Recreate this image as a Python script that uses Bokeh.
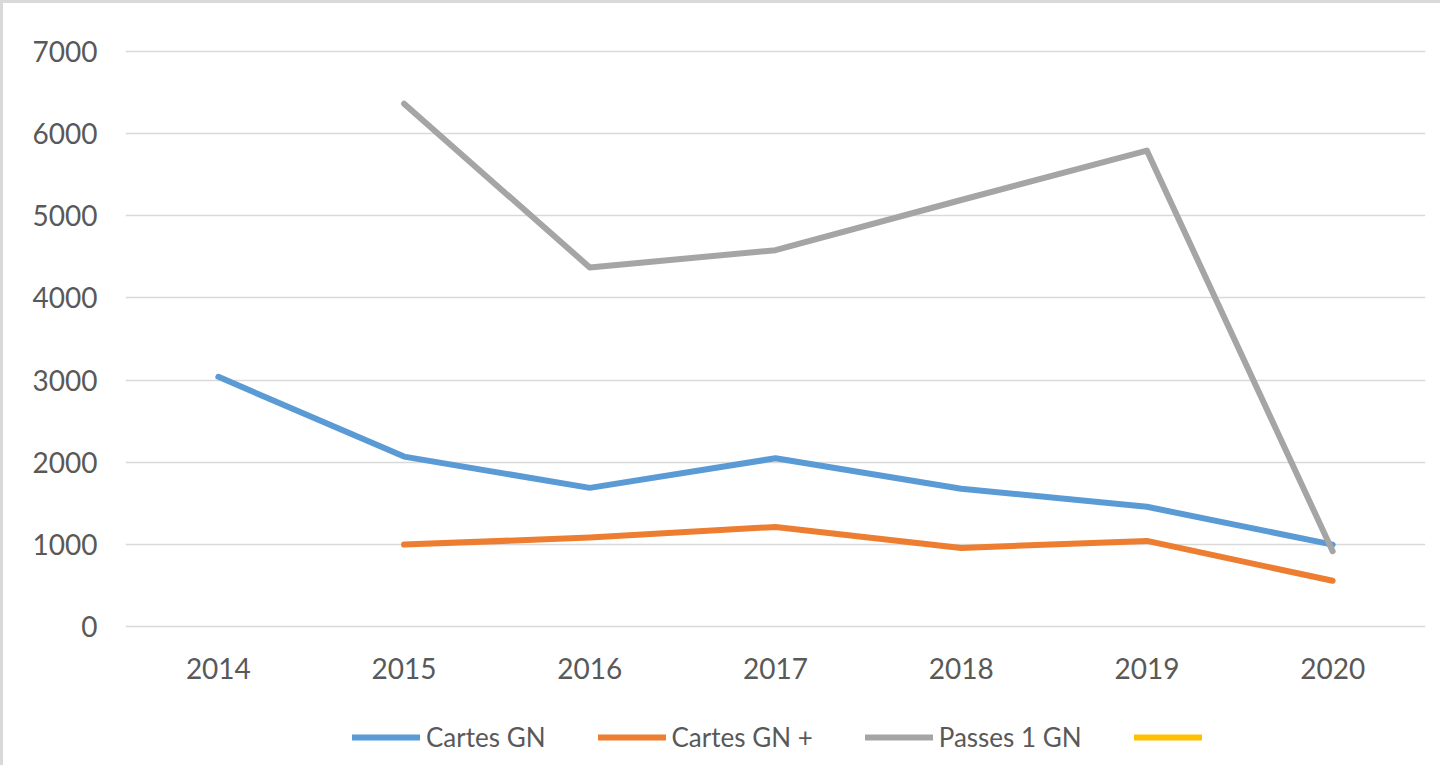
from bokeh.plotting import figure
from bokeh.layouts import column
from bokeh.models import Range1d, FactorRange, Legend, LegendItem, FixedTicker, ColumnDataSource
from bokeh.embed import file_html
from bokeh.resources import INLINE

nan = float("nan")
years = ["2014", "2015", "2016", "2017", "2018", "2019", "2020"]
cartes_gn = [3040, 2070, 1690, 2050, 1680, 1460, 1000]
cartes_gn_plus = [nan, 1000, 1085, 1215, 960, 1045, 560]
passes_1_gn = [nan, 6360, 4370, 4580, 5190, 5790, 920]
serie4 = [nan, nan, nan, nan, nan, nan, nan]
y_ticks = [0, 1000, 2000, 3000, 4000, 5000, 6000, 7000]
labels = ["Cartes GN", "Cartes GN +", "Passes 1 GN", ""]
colors = ["#5b9bd5", "#ed7d31", "#a5a5a5", "#ffc000"]

FONT = "Lato"
TXT = "#595959"
GRID = "#d9d9d9"

p = figure(width=1440, height=705, x_range=FactorRange(*years, range_padding=0),
           y_range=Range1d(-20, 7020), output_backend="svg", toolbar_location=None,
           min_border_left=122, min_border_right=18, min_border_top=46, min_border_bottom=80)
p.styles = {"border-left": "3px solid #d9d9d9", "border-top": "3px solid #d9d9d9"}
p.outline_line_color = None
p.xgrid.grid_line_color = None
p.ygrid.grid_line_color = GRID
p.ygrid.grid_line_width = 1.5
p.yaxis.ticker = FixedTicker(ticks=y_ticks)

for ax in (p.xaxis[0], p.yaxis[0]):
    ax.axis_line_color = None
    ax.major_tick_line_color = None
    ax.minor_tick_line_color = None
    ax.major_tick_out = 0
    ax.major_tick_in = 0
    ax.major_label_text_font = FONT
    ax.major_label_text_font_size = "28px"
    ax.major_label_text_color = TXT
p.yaxis.major_label_standoff = 28
p.xaxis.major_label_standoff = 29

sources = [ColumnDataSource(dict(x=years, y=vals))
           for vals in (cartes_gn, cartes_gn_plus, passes_1_gn, serie4)]

kw = dict(line_width=6, line_cap="round", line_join="round")
for src, c in zip(sources, colors):
    p.line("x", "y", source=src, line_color=c, **kw)

# legend strip below the chart (its lines lie outside its own range, only the legend shows)
q = figure(width=1440, height=60, x_range=FactorRange(*years, range_padding=0),
           y_range=Range1d(-100000, -99999), output_backend="svg", toolbar_location=None,
           min_border_left=0, min_border_right=0, min_border_top=0, min_border_bottom=0)
q.styles = {"border-left": "3px solid #d9d9d9"}
q.axis.visible = False
q.grid.visible = False
q.outline_line_color = None
items = []
for lab, src, c in zip(labels, sources, colors):
    r = q.line("x", "y", source=src, line_color=c, **kw)
    items.append(LegendItem(label=lab, renderers=[r]))
legend = Legend(items=items, orientation="horizontal", location=(227, 12),
                glyph_width=68, glyph_height=30, label_standoff=6, spacing=52,
                padding=0, margin=0, border_line_color=None, background_fill_alpha=0,
                label_text_font=FONT, label_text_font_size="26px", label_text_color=TXT,
                label_height=30)
q.add_layout(legend, "center")

open("out.html", "w").write(file_html(column(p, q, spacing=0), INLINE))
